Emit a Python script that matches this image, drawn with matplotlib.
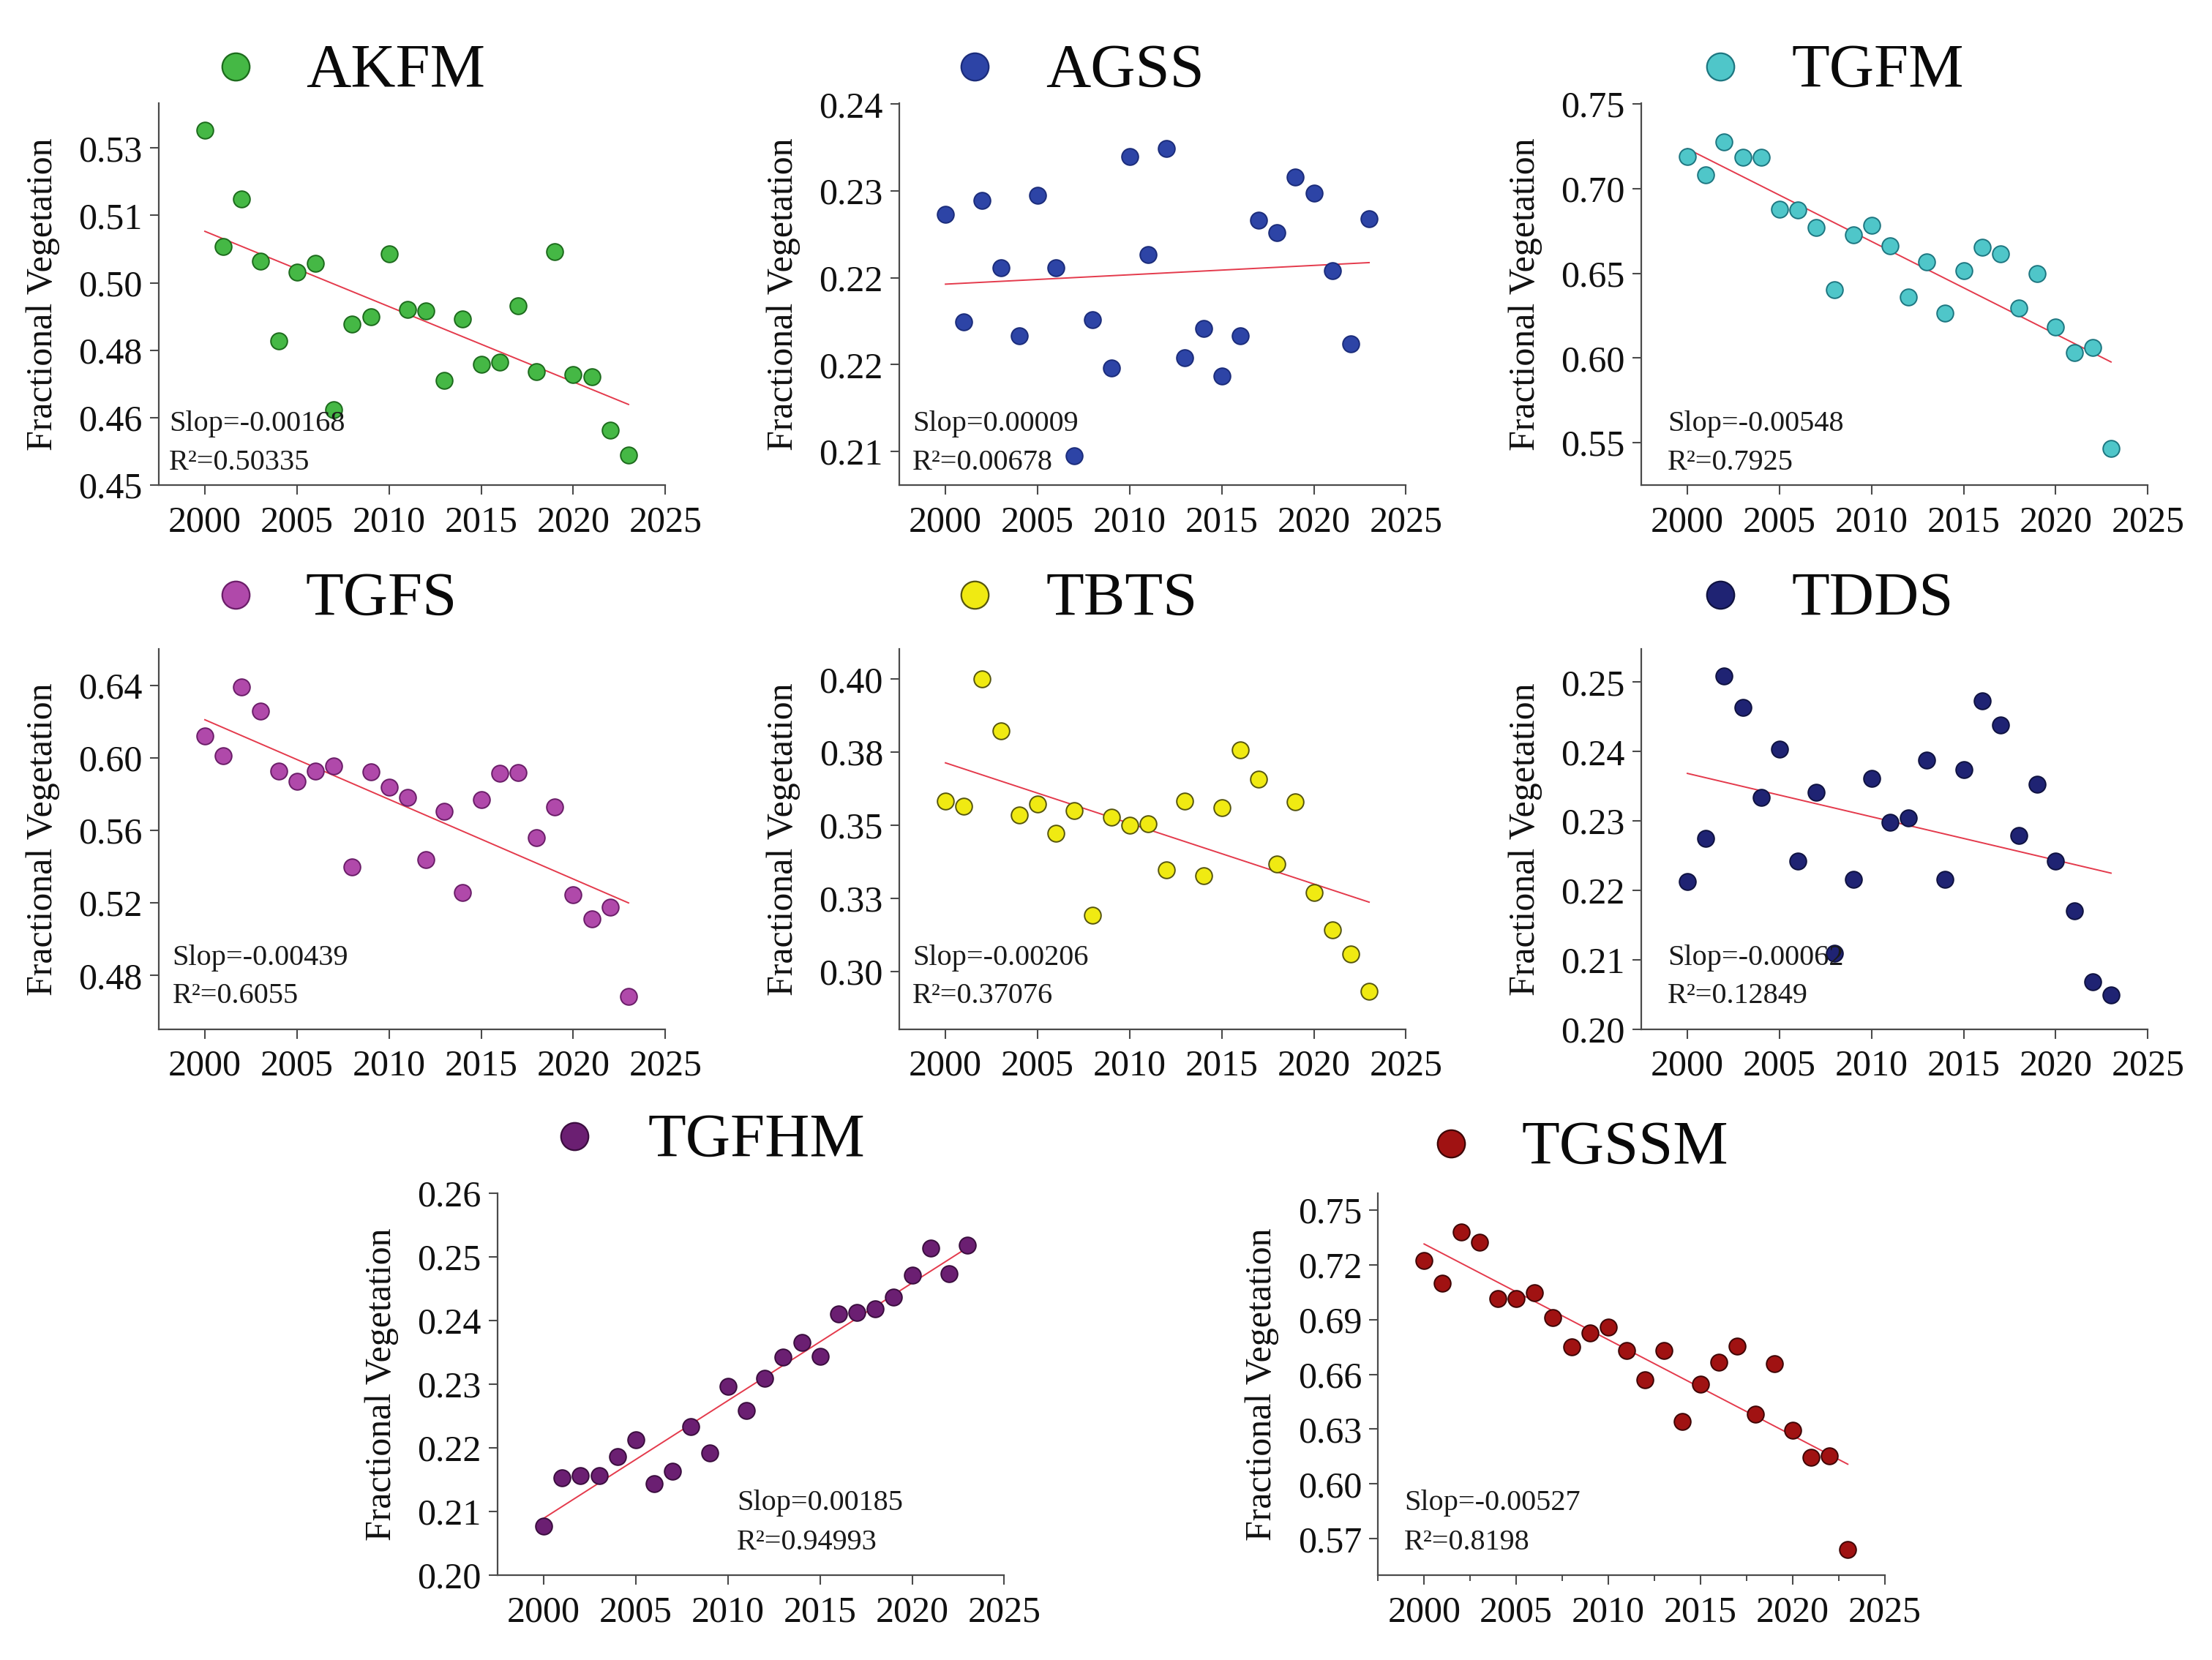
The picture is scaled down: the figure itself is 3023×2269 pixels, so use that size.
import matplotlib
matplotlib.use('Agg')
import matplotlib.pyplot as plt
from matplotlib.ticker import MultipleLocator
import numpy as np

plt.rcParams['font.family'] = ['Liberation Serif', 'DejaVu Serif']

years = np.arange(2000, 2024)

# valori (frazione di vegetazione per anno)
akfm = [0.5290, 0.5030, 0.5136, 0.4999, 0.4821, 0.4974, 0.4994, 0.4668, 0.4858, 0.4875,
        0.5015, 0.4891, 0.4887, 0.4733, 0.4869, 0.4768, 0.4773, 0.4899, 0.4753, 0.5020,
        0.4746, 0.4741, 0.4622, 0.4566]
agss = [0.2305, 0.2212, 0.2317, 0.2259, 0.2200, 0.2321, 0.2259, 0.2096, 0.2214, 0.2172,
        0.2355, 0.2270, 0.2362, 0.2181, 0.2206, 0.2165, 0.2200, 0.2300, 0.2289, 0.2337,
        0.2323, 0.2256, 0.2193, 0.2301]
tgfm = [0.7190, 0.7080, 0.7274, 0.7186, 0.7186, 0.6879, 0.6874, 0.6772, 0.6402, 0.6728,
        0.6785, 0.6661, 0.6362, 0.6569, 0.6266, 0.6517, 0.6655, 0.6617, 0.6295, 0.6500,
        0.6182, 0.6033, 0.6063, 0.5467]
tgfs = [0.6122, 0.6011, 0.6390, 0.6257, 0.5926, 0.5870, 0.5926, 0.5956, 0.5400, 0.5922,
        0.5838, 0.5781, 0.5440, 0.5705, 0.5259, 0.5771, 0.5914, 0.5920, 0.5558, 0.5730,
        0.5244, 0.5114, 0.5175, 0.4686]
tbts = [0.3582, 0.3564, 0.4001, 0.3823, 0.3534, 0.3572, 0.3473, 0.3549, 0.3193, 0.3528,
        0.3499, 0.3506, 0.3347, 0.3582, 0.3326, 0.3560, 0.3758, 0.3658, 0.3368, 0.3579,
        0.3270, 0.3142, 0.3060, 0.2930]
tdds = [0.2213, 0.2275, 0.2509, 0.2464, 0.2334, 0.2403, 0.2242, 0.2341, 0.2109, 0.2216,
        0.2361, 0.2298, 0.2304, 0.2388, 0.2216, 0.2374, 0.2473, 0.2438, 0.2279, 0.2353,
        0.2242, 0.2170, 0.2068, 0.2049]
tgfhm = [0.2077, 0.2153, 0.2156, 0.2156, 0.2186, 0.2213, 0.2144, 0.2163, 0.2234, 0.2192,
         0.2297, 0.2259, 0.2309, 0.2343, 0.2366, 0.2344, 0.2411, 0.2413, 0.2418, 0.2437,
         0.2472, 0.2514, 0.2474, 0.2519]
tgssm = [0.7221, 0.7099, 0.7378, 0.7323, 0.7014, 0.7014, 0.7048, 0.6912, 0.6750, 0.6827,
         0.6857, 0.6731, 0.6571, 0.6731, 0.6341, 0.6544, 0.6666, 0.6754, 0.6383, 0.6658,
         0.6292, 0.6145, 0.6154, 0.5643]

names = ['AKFM', 'AGSS', 'TGFM', 'TGFS', 'TBTS', 'TDDS', 'TGFHM', 'TGSSM']
series = [akfm, agss, tgfm, tgfs, tbts, tdds, tgfhm, tgssm]
slope_txt = ['Slop=-0.00168', 'Slop=0.00009', 'Slop=-0.00548', 'Slop=-0.00439',
             'Slop=-0.00206', 'Slop=-0.00062', 'Slop=0.00185', 'Slop=-0.00527']
r2_txt = ['R\u00b2=0.50335', 'R\u00b2=0.00678', 'R\u00b2=0.7925', 'R\u00b2=0.6055',
          'R\u00b2=0.37076', 'R\u00b2=0.12849', 'R\u00b2=0.94993', 'R\u00b2=0.8198']

yticks = [[0.45, 0.465, 0.48, 0.495, 0.51, 0.525],
          [0.21, 0.2175, 0.225, 0.2325, 0.24],
          [0.55, 0.60, 0.65, 0.70, 0.75],
          [0.48, 0.52, 0.56, 0.60, 0.64],
          [0.30, 0.325, 0.35, 0.375, 0.40],
          [0.20, 0.21, 0.22, 0.23, 0.24, 0.25],
          [0.20, 0.21, 0.22, 0.23, 0.24, 0.25, 0.26],
          [0.57, 0.60, 0.63, 0.66, 0.69, 0.72, 0.75]]
ytick_labels = [['0.45', '0.46', '0.48', '0.50', '0.51', '0.53'],
                ['0.21', '0.22', '0.22', '0.23', '0.24'],
                ['0.55', '0.60', '0.65', '0.70', '0.75'],
                ['0.48', '0.52', '0.56', '0.60', '0.64'],
                ['0.30', '0.33', '0.35', '0.38', '0.40'],
                ['0.20', '0.21', '0.22', '0.23', '0.24', '0.25'],
                ['0.20', '0.21', '0.22', '0.23', '0.24', '0.25', '0.26'],
                ['0.57', '0.60', '0.63', '0.66', '0.69', '0.72', '0.75']]
xticks = [2000, 2005, 2010, 2015, 2020, 2025]

# stile e posizioni
ylims = [(0.45, 0.535), (0.2071, 0.2401), (0.525, 0.7505), (0.4505, 0.66),
         (0.2802, 0.4104), (0.20, 0.2548), (0.20, 0.26), (0.5501, 0.759)]
colori = ['#45b845', '#2d44a6', '#4fc6c9', '#b049aa', '#f0ea12', '#1f2373', '#6b1f72', '#a01212']
bordi = ['#1c6a1c', '#1b2c7a', '#1d7680', '#6a1d68', '#55550f', '#0f1240', '#3a0d3e', '#3d0505']

rects = [(0.0718, 0.7078, 0.229, 0.2301), (0.4066, 0.7078, 0.229, 0.2301),
         (0.742, 0.7078, 0.229, 0.2301), (0.0718, 0.3801, 0.229, 0.229),
         (0.4066, 0.3801, 0.229, 0.229), (0.742, 0.3801, 0.229, 0.229),
         (0.225, 0.0511, 0.229, 0.230), (0.623, 0.0511, 0.229, 0.230)]
pos_marker = [(0.152, 1.096), (0.149, 1.096), (0.156, 1.096), (0.152, 1.142),
              (0.149, 1.142), (0.156, 1.142), (0.152, 1.149), (0.144, 1.130)]
pos_titolo = [(0.290, 1.042), (0.289, 1.042), (0.297, 1.042), (0.290, 1.089),
              (0.289, 1.089), (0.297, 1.089), (0.296, 1.096), (0.283, 1.077)]
pos_testo = [(0.020, 0.142, 0.040), (0.026, 0.142, 0.040), (0.052, 0.142, 0.040),
             (0.027, 0.168, 0.068), (0.026, 0.168, 0.068), (0.052, 0.168, 0.068),
             (0.472, 0.170, 0.067), (0.052, 0.170, 0.067)]

grigio = '#4a4a4a'

fig = plt.figure(figsize=(30.23, 22.69), dpi=100)

for i in range(8):
    ax = fig.add_axes(rects[i])
    vals = np.array(series[i])

    # retta di regressione
    coef = np.polyfit(years, vals, 1)
    ax.plot([years[0], years[-1]], np.polyval(coef, [years[0], years[-1]]),
            color='#e43a4c', lw=1.4, zorder=2)
    ax.scatter(years, vals, s=265, color=colori[i], edgecolors=bordi[i],
               linewidths=1.4, zorder=3)

    ax.set_xlim(1997.5, 2025)
    ax.set_ylim(*ylims[i])
    ax.set_xticks(xticks)
    ax.set_yticks(yticks[i])
    ax.set_yticklabels(ytick_labels[i])
    if names[i] == 'TGSSM':
        ax.xaxis.set_minor_locator(MultipleLocator(2.5))
        ax.tick_params(axis='x', which='minor', length=6, width=1.4, color=grigio)

    for s in ['top', 'right']:
        ax.spines[s].set_visible(False)
    for s in ['left', 'bottom']:
        ax.spines[s].set_color(grigio)
        ax.spines[s].set_linewidth(1.6)
    ax.tick_params(axis='both', which='major', labelsize=36, length=9, width=1.5,
                   color=grigio, labelcolor='#111111')
    ax.tick_params(axis='x', which='major', pad=11)
    ax.tick_params(axis='y', which='major', pad=7)

    ax.set_ylabel('Fractional Vegetation', fontsize=36, color='#111111')
    ax.yaxis.set_label_coords(-0.195, 0.5)

    # titolo con marcatore, tipo legenda
    mx, my = pos_marker[i]
    ax.plot([mx], [my], 'o', ms=27, color=colori[i], mec=bordi[i], mew=1.6,
            transform=ax.transAxes, clip_on=False)
    tx, ty = pos_titolo[i]
    ax.text(tx, ty, names[i], transform=ax.transAxes, fontsize=61,
            va='baseline', ha='left', color='#0a0a0a')

    ax.text(pos_testo[i][0], pos_testo[i][1], slope_txt[i], transform=ax.transAxes,
            fontsize=29, va='baseline', ha='left', color='#1a1a1a')
    ax.text(pos_testo[i][0], pos_testo[i][2], r2_txt[i], transform=ax.transAxes,
            fontsize=29, va='baseline', ha='left', color='#1a1a1a')

fig.savefig('out.png', dpi=100)
plt.close(fig)
